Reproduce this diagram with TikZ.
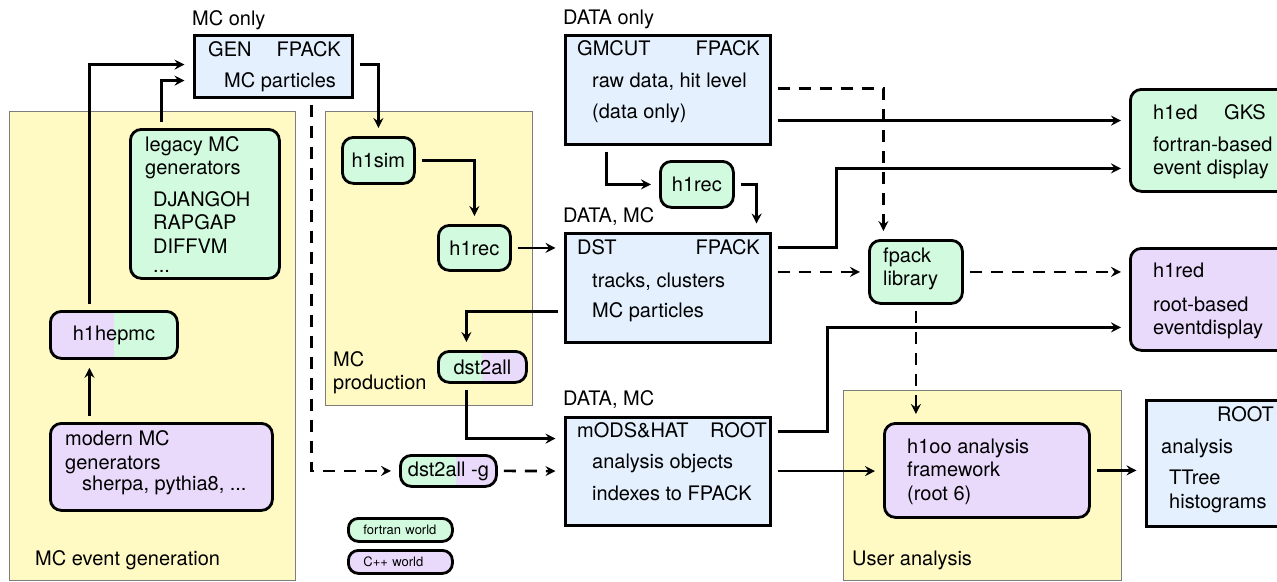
\documentclass[tikz,border=0pt]{standalone}
\usepackage{fontspec}
\setmainfont{TeX Gyre Heros}
\usetikzlibrary{arrows.meta,calc}

\definecolor{panelyellow}{RGB}{255,250,196}
\definecolor{panelgray}{RGB}{125,125,125}
\definecolor{fpackblue}{RGB}{228,240,254}
\definecolor{fortrangreen}{RGB}{210,250,222}
\definecolor{cpppurple}{RGB}{233,218,252}

% two-world boxes: left colour, right colour, split fraction
\tikzset{
  mixbox/.style n args={3}{draw=black, line width=2.8pt, rounded corners=11pt,
    path picture={
      \fill[#1, sharp corners] (path picture bounding box.south west) rectangle ($(path picture bounding box.north west)!#3!(path picture bounding box.north east)$);
      \fill[#2, sharp corners] ($(path picture bounding box.south west)!#3!(path picture bounding box.south east)$) rectangle (path picture bounding box.north east);
    }},
}

\begin{document}
\begin{tikzpicture}[x=1pt, y=-1pt, >={Stealth[length=10pt, width=10pt, inset=3.5pt]}, font=\fontsize{20}{23.5}\selectfont]

        % --- STYLES ---
        % note: base west of a multi-line text sits on its last line
        \tikzstyle{panel} = [draw=panelgray, fill=panelyellow, line width=1pt]
        \tikzstyle{fpackbox} = [draw=black, fill=fpackblue, line width=3.2pt]
        \tikzstyle{fortranbox} = [draw=black, fill=fortrangreen, line width=2.8pt, rounded corners=11pt]
        \tikzstyle{cppbox} = [draw=black, fill=cpppurple, line width=2.8pt, rounded corners=11pt]
        \tikzstyle{legendbox} = [line width=2.8pt, rounded corners=10pt, minimum width=104, minimum height=23, text width=74, align=left, inner sep=0pt, font=\fontsize{13}{15}\selectfont]
        \tikzstyle{txt} = [anchor=base west, inner sep=0pt, align=left]
        \tikzstyle{wire} = [draw=black, line width=2.6pt, ->, shorten >=8pt, shorten <=6pt]
        \tikzstyle{dashwire} = [wire, dash pattern=on 12pt off 9pt]

        % --- FRAME ---
        \path[use as bounding box] (0,0) rectangle (1277,581);
        \clip (0,0) rectangle (1277,581);

        % --- PANELS ---
        \node[panel, minimum width=286, minimum height=469, anchor=north west] (evgen) at (9,111) {};
        \node[panel, minimum width=207, minimum height=294, anchor=north west] (mcprod) at (325,111) {};
        \node[panel, minimum width=278, minimum height=190, anchor=north west] (useran) at (843,390) {};
        \node[txt] (evgen_t) at (35,565) {MC event generation};
        \node[txt] (mcprod_t) at (333,389.5) {MC\\production};
        \node[txt] (useran_t) at (852,565) {User analysis};

        % --- DATA FORMATS (FPACK / ROOT) ---
        \node[fpackbox, minimum width=158, minimum height=62, anchor=north west] (gen) at (192.5,33.5) {};
        \node[txt] (gen_h) at (192,25) {MC only};
        \node[txt] (gen_a) at (208,56) {GEN};
        \node[txt, anchor=base east] (gen_b) at (341,56) {FPACK};
        \node[txt] (gen_c) at (224,87) {MC particles};

        \node[fpackbox, minimum width=205, minimum height=109, anchor=north west] (raw) at (563.5,33.5) {};
        \node[txt] (raw_h) at (563,24) {DATA only};
        \node[txt] (raw_a) at (577,55) {GMCUT};
        \node[txt, anchor=base east] (raw_b) at (760,55) {FPACK};
        \node[txt] (raw_c) at (592,87) {raw data, hit level};
        \node[txt] (raw_d) at (592,118) {(data only)};

        \node[fpackbox, minimum width=205, minimum height=109, anchor=north west] (dst) at (563.5,231.5) {};
        \node[txt] (dst_h) at (563,222) {DATA, MC};
        \node[txt] (dst_a) at (577,254) {DST};
        \node[txt, anchor=base east] (dst_b) at (760,254) {FPACK};
        \node[txt] (dst_c) at (592,287) {tracks, clusters};
        \node[txt] (dst_d) at (592,317) {MC particles};

        \node[fpackbox, minimum width=205, minimum height=108, anchor=north west] (mods) at (563.5,415.5) {};
        \node[txt] (mods_h) at (563,405) {DATA, MC};
        \node[txt] (mods_a) at (577,437) {mODS\&HAT};
        \node[txt, anchor=base east] (mods_b) at (767,437) {ROOT};
        \node[txt] (mods_c) at (592,468) {analysis objects};
        \node[txt] (mods_d) at (592,500) {indexes to FPACK};

        \node[fpackbox, minimum width=160, minimum height=126, anchor=north west] (ana) at (1144.5,398.5) {};
        \node[txt] (ana_a) at (1217,421) {ROOT};
        \node[txt] (ana_b) at (1161,453) {analysis};
        \node[txt] (ana_c) at (1169,508) {TTree\\histograms};

        % --- PROGRAMS ---
        \node[fortranbox, minimum width=149, minimum height=149, anchor=north west] (legacy) at (129,128) {};
        \node[txt] (legacy_a) at (145,174.5) {legacy MC\\generators};
        \node[txt] (legacy_b) at (153,253) {DJANGOH\\RAPGAP\\DIFFVM};
        \node[txt] (legacy_c) at (153,272) {...};

        \node[mixbox={cpppurple}{fortrangreen}{0.5}, minimum width=127, minimum height=47, anchor=north west] (h1hepmc) at (49,310) {h1hepmc};

        \node[cppbox, minimum width=222, minimum height=87, anchor=north west] (modern) at (49,422) {};
        \node[txt] (modern_a) at (65,469) {modern MC\\generators};
        \node[txt] (modern_b) at (82,490) {sherpa, pythia8, ...};

        \node[fortranbox, minimum width=72, minimum height=46, anchor=north west] (h1sim) at (341,136) {h1sim};
        \node[fortranbox, minimum width=72, minimum height=45, anchor=north west] (h1rec_mc) at (437,224) {h1rec};
        \node[fortranbox, minimum width=73, minimum height=46, anchor=north west] (h1rec_data) at (659,160) {h1rec};

        \node[mixbox={fortrangreen}{cpppurple}{0.49}, minimum width=88, minimum height=31, anchor=north west, inner sep=0pt] (dst2all) at (437,350) {dst2all};
        \node[mixbox={fortrangreen}{cpppurple}{0.58}, minimum width=96, minimum height=31, anchor=north west, inner sep=0pt] (dst2all_g) at (399,454) {dst2all -g};

        \node[fortranbox, minimum width=93, minimum height=63, anchor=north west] (fpack) at (868,239) {};
        \node[txt] (fpack_t) at (883,285.5) {fpack\\library};

        \node[fortranbox, minimum width=175, minimum height=102, anchor=north west] (h1ed) at (1129,88) {};
        \node[txt] (h1ed_a) at (1153,119) {h1ed};
        \node[txt] (h1ed_b) at (1224,119) {GKS};
        \node[txt] (h1ed_c) at (1153,174.5) {fortran-based\\event display};

        \node[cppbox, minimum width=175, minimum height=102, anchor=north west] (h1red) at (1129,247) {};
        \node[txt] (h1red_a) at (1153,277) {h1red};
        \node[txt] (h1red_b) at (1153,334.5) {root-based\\eventdisplay};

        \node[cppbox, minimum width=205, minimum height=94, anchor=north west] (h1oo) at (883,422) {};
        \node[txt] (h1oo_t) at (907,500) {h1oo analysis\\framework\\(root 6)};

        % --- LEGEND ---
        \node[legendbox, draw=black, fill=fortrangreen, anchor=north west] (leg_f) at (347,517) {fortran world};
        \node[legendbox, draw=black, fill=cpppurple, anchor=north west] (leg_c) at (347,549) {C++ world};

        % --- PORTS ---
        \coordinate (hepmc_out) at ([xshift=-24.5pt]h1hepmc.north);
        \coordinate (legacy_out) at ([xshift=-43.5pt]legacy.north);
        \coordinate (gen_in_a) at ([yshift=1.5pt]gen.west);
        \coordinate (gen_in_b) at ([yshift=-14.5pt]gen.west);
        \coordinate (gen_out) at ([yshift=1.5pt]gen.east);
        \coordinate (gen_dash) at ([xshift=38.5pt]gen.south);
        \coordinate (raw_out) at ([xshift=-61pt]raw.south);
        \coordinate (raw_dash) at ([yshift=1pt]raw.east);
        \coordinate (raw_ed) at ([yshift=-31pt]raw.east);
        \coordinate (dst_in) at ([xshift=89pt]dst.north);
        \coordinate (dst_ed) at ([yshift=40pt]dst.east);
        \coordinate (dst_back) at ([yshift=-24pt]dst.west);
        \coordinate (dst2all_in) at ([xshift=-16pt]dst2all.north);
        \coordinate (dst2all_out) at ([xshift=-16pt]dst2all.south);
        \coordinate (mods_in) at ([yshift=32.5pt]mods.west);
        \coordinate (mods_red) at ([yshift=39.5pt]mods.east);
        \coordinate (fpack_in) at ([xshift=-32.5pt]fpack.north);
        \coordinate (h1ed_in) at ([yshift=-28pt]h1ed.west);
        \coordinate (h1red_in) at ([yshift=-28pt]h1red.west);

        % --- CONNECTIONS ---
        % generation
        \draw[wire] (hepmc_out) |- (gen_in_a);
        \draw[wire] (legacy_out) |- (gen_in_b);
        \draw[wire] (modern.north -| hepmc_out) -- (h1hepmc.south -| hepmc_out);
        % production chain
        \draw[wire] (gen_out) -| (h1sim.north);
        \draw[wire] (h1sim.east) -| (h1rec_mc.north);
        \draw[wire] (h1rec_mc.east) -- (h1rec_mc.east -| dst.west);
        \draw[wire] (dst_back) -| (dst2all_in);
        \draw[wire] (dst2all_out) |- (mods_in);
        \draw[dashwire] (gen_dash) |- (dst2all_g.west);
        \draw[dashwire] (dst2all_g.east) -- (mods.west);
        % data reconstruction
        \draw[wire] (raw_out) |- (h1rec_data.west);
        \draw[wire] (h1rec_data.east) -| (dst_in);
        % event displays
        \draw[wire] (raw_ed) -- (raw_ed -| h1ed.west);
        \draw[wire] (dst_ed) -- ++(65,0) |- (h1ed_in);
        \draw[wire] (mods_red) -- ++(56,0) |- (h1red_in);
        % fpack library
        \draw[dashwire] (raw_dash) -| (fpack_in);
        \draw[dashwire] (fpack.west -| dst.east) -- (fpack.west);
        \draw[dashwire] (fpack.east) -- (fpack.east -| h1red.west);
        \draw[dashwire] (fpack.south) -- (fpack.south |- h1oo.north);
        % user analysis
        \draw[wire] (mods.east) -- (mods.east -| h1oo.west);
        \draw[wire] (h1oo.east) -- (h1oo.east -| ana.west);

    \end{tikzpicture}
\end{document}
